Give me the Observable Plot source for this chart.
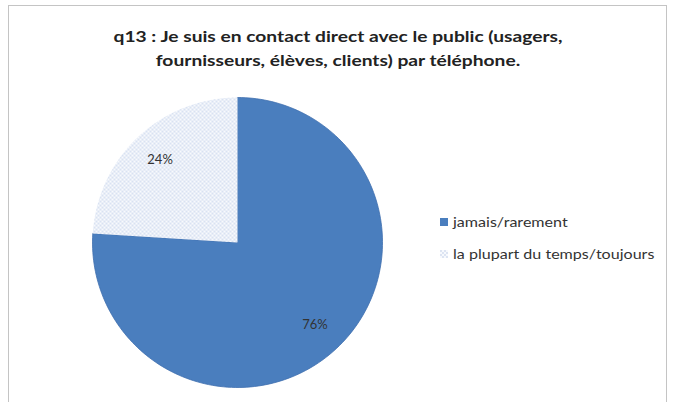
<!DOCTYPE html>
<html><head><meta charset="utf-8">
<script src="https://cdn.jsdelivr.net/npm/d3@7"></script>
<script src="https://cdn.jsdelivr.net/npm/@observablehq/plot@0.6"></script>
<style>
body{margin:0;background:#fff;font-family:Lato,"Open Sans",sans-serif;}
#wrap{position:relative;width:676px;height:402px;overflow:hidden;}
#frame{position:absolute;left:8px;top:5px;width:659px;height:400px;border:1px solid #c4c4c4;box-sizing:border-box;}
#title{position:absolute;left:0;width:676px;top:24px;text-align:center;font-weight:bold;font-size:16px;line-height:24px;color:#222;transform:scaleX(1.2);transform-origin:338px 0;}
#chart{position:absolute;left:87px;top:92px;}
#legend{position:absolute;left:440px;top:206px;font-size:13.5px;color:#333;}
.li{display:flex;align-items:center;height:32px;}
.li svg{margin-right:5px;}
.li span{display:inline-block;transform:scaleX(1.19);transform-origin:0 50%;}
</style></head>
<body><div id="wrap"><div id="frame"></div>
<div id="title">q13 : Je suis en contact direct avec le public (usagers,<br>fournisseurs, élèves, clients) par téléphone.</div>
<div id="chart"></div>
<div id="legend"></div>
</div>
<script>
const categories = ["jamais/rarement", "la plupart du temps/toujours"];
const values = [76, 24];
const valueLabels = ["76%", "24%"];
const fills = ["#4a7ebe", "url(#dots)"];

const total = d3.sum(values);
let cum = 0;
const slices = values.map((v, i) => {
  const a0 = cum / total * 2 * Math.PI;
  cum += v;
  const a1 = cum / total * 2 * Math.PI;
  return {cat: categories[i], a0, a1, label: valueLabels[i], fill: fills[i]};
});
const pts = [];
for (const s of slices) {
  pts.push({cat: s.cat, x: 0, y: 0});
  const n = 180;
  for (let k = 0; k <= n; k++) {
    const a = s.a0 + (s.a1 - s.a0) * k / n;
    pts.push({cat: s.cat, x: Math.sin(a), y: Math.cos(a)});
  }
  pts.push({cat: s.cat, x: 0, y: 0});
}
const labelPts = slices.map(s => {
  const m = (s.a0 + s.a1) / 2;
  return {x: 0.78 * Math.sin(m), y: 0.78 * Math.cos(m), label: s.label};
});

const plot = Plot.plot({
  width: 300, height: 300,
  margin: 5,
  x: {domain: [-1, 1], axis: null},
  y: {domain: [-1, 1], axis: null},
  marks: [
    ...slices.map(s => Plot.line(pts.filter(p => p.cat === s.cat), {x: "x", y: "y", fill: s.fill, stroke: s.fill === fills[0] ? "#3f6fae" : "none", strokeWidth: 0.8})),
    Plot.text(labelPts, {x: "x", y: "y", text: "label", fontSize: 13, fill: "#333", fontFamily: "Lato, sans-serif"})
  ]
});
const ns = "http://www.w3.org/2000/svg";
const defs = document.createElementNS(ns, "defs");
defs.innerHTML = `<pattern id="dots" width="4" height="4" patternUnits="userSpaceOnUse"><rect width="4" height="4" fill="#f8fafd"/><circle cx="1" cy="1" r="0.85" fill="#bccbe7"/><circle cx="3" cy="3" r="0.85" fill="#bccbe7"/></pattern>`;
plot.insertBefore(defs, plot.firstChild);
document.getElementById("chart").appendChild(plot);

const legend = document.getElementById("legend");
categories.forEach((c, i) => {
  const row = document.createElement("div");
  row.className = "li";
  row.innerHTML = `<svg width="8" height="8"><defs><pattern id="dl${i}" width="4" height="4" patternUnits="userSpaceOnUse"><rect width="4" height="4" fill="#f7f9fd"/><circle cx="1" cy="1" r="0.9" fill="#d0daee"/><circle cx="3" cy="3" r="0.9" fill="#d0daee"/></pattern></defs><rect width="8" height="8" fill="${i === 0 ? fills[0] : `url(#dl${i})`}"/></svg><span>${c}</span>`;
  legend.appendChild(row);
});
</script>
</body></html>
